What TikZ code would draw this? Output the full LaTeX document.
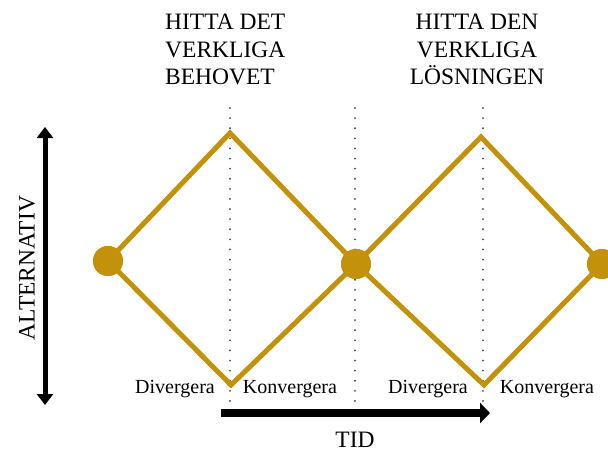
\documentclass[tikz,border=0pt]{standalone}
\usepackage{fontspec}
\setmainfont{Liberation Serif}
\usetikzlibrary{arrows.meta}
\definecolor{gold}{HTML}{C4920A}
\begin{document}
\begin{tikzpicture}[x=1pt,y=-1pt,
  phase/.style={draw=gold,line width=5pt,line join=miter},
  dot/.style={circle,fill=gold,minimum size=30pt,inner sep=0pt},
  guide/.style={gray!60!black,line width=2pt,dash pattern=on 0.1pt off 10pt,line cap=round},
  lbl/.style={font=\fontsize{20}{24}\selectfont,inner sep=0pt},
  head/.style={font=\fontsize{23.5}{27.5}\selectfont,inner sep=0pt}]
\useasboundingbox (0,0) rectangle (608,452);
% guides
\coordinate (g1a) at (230,108); \coordinate (g1b) at (230,405);
\coordinate (g2a) at (355,108); \coordinate (g2b) at (355,405);
\coordinate (g3a) at (483,108); \coordinate (g3b) at (483,405);
\draw[guide] (g1a) -- (g1b);
\draw[guide] (g2a) -- (g2b);
\draw[guide] (g3a) -- (g3b);
% double diamond
\node[dot](L) at (108,261){};
\node[dot](M) at (356,264){};
\node[dot](R) at (602,264){};
\coordinate (T1) at (230,133);
\coordinate (B1) at (231,385);
\coordinate (T2) at (481,137);
\coordinate (B2) at (484,385);
\draw[phase] (L.center) -- (T1) -- (M.center) -- (B1) -- cycle;
\draw[phase] (M.center) -- (T2) -- (R.center) -- (B2) -- cycle;
\node[dot] at (L){};
\node[dot] at (M){};
\node[dot] at (R){};
% axes
\coordinate (altTop) at (45,127);
\coordinate (altBot) at (45,405);
\draw[line width=5pt,{Triangle[length=11pt,width=16pt]}-{Triangle[length=11pt,width=16pt]}] (altTop) -- (altBot);
\node[head,rotate=90](alt) at (27,268){ALTERNATIV};
\coordinate (tidStart) at (221,413);
\coordinate (tidEnd) at (490,413);
\draw[line width=8pt,-{Triangle[length=10pt,width=20pt]}] (tidStart) -- (tidEnd);
\node[head](tid) at (355,440){TID};
% labels
\node[lbl](div1) at (175,389){Divergera};
\node[lbl](kon1) at (290,389){Konvergera};
\node[lbl](div2) at (428,389){Divergera};
\node[lbl](kon2) at (547,389){Konvergera};
\node[head,align=left,anchor=north west](need) at (165,14){HITTA DET\\VERKLIGA\\BEHOVET};
\node[head,align=center,anchor=north](sol) at (477,14){HITTA DEN\\VERKLIGA\\LÖSNINGEN};
\end{tikzpicture}
\end{document}
